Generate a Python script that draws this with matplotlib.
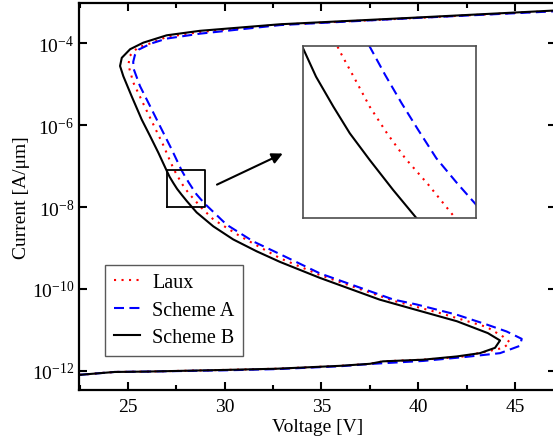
import numpy as np
import matplotlib
matplotlib.use("Agg")
import matplotlib.pyplot as plt
from matplotlib.ticker import MultipleLocator, NullLocator

plt.rcParams['font.family'] = ['Liberation Serif', 'DejaVu Serif']
plt.rcParams['mathtext.fontset'] = 'custom'
plt.rcParams['mathtext.rm'] = 'Liberation Serif'
plt.rcParams['mathtext.it'] = 'Liberation Serif:italic'
plt.rcParams['axes.unicode_minus'] = False

# voltage [V] and log10 of current [A/um], in path order
# (lower branch -> snapback tip -> back up-left -> upper branch)
v_laux = [22.5, 24.3, 26.0, 30.0, 32.7, 35.96, 37.51, 38.18, 40.25, 42.2, 43.54,
          44.4, 44.75, 44.4, 43.54, 41.13, 38.72, 34.92, 32.86, 30.79, 29.41,
          28.75, 28.45, 28.18, 27.97, 27.77, 27.6, 27.42, 27.22, 26.83, 26.31,
          25.79, 25.28, 25.02, 25.1, 25.5, 26.14, 27.0, 28.72, 32.86, 39.74, 47.2]
logi_laux = [-12.10, -12.03, -12.02, -11.98, -11.95, -11.88, -11.83, -11.77, -11.73,
             -11.66, -11.53, -11.44, -11.31, -11.17, -10.93, -10.59, -10.29, -9.66,
             -9.25, -8.71, -8.30, -7.995, -7.826, -7.686, -7.555, -7.415, -7.271,
             -7.121, -6.92, -6.49, -5.98, -5.47, -4.96, -4.53, -4.30, -4.10, -4.00,
             -3.84, -3.72, -3.54, -3.38, -3.20]

v_a = [22.5, 24.3, 26.0, 30.0, 32.7, 35.96, 37.68, 40.26, 42.5, 44.23, 45.26,
       45.35, 44.57, 43.54, 41.99, 39.92, 38.72, 34.92, 32.86, 31.48, 30.1, 29.0,
       28.78, 28.54, 28.33, 28.14, 27.95, 27.77, 27.26, 26.74, 26.14, 25.62,
       25.3, 25.27, 25.36, 25.55, 26.2, 27.0, 28.72, 32.86, 39.74, 47.2]
logi_a = [-12.10, -12.03, -12.02, -11.99, -11.96, -11.89, -11.83, -11.76, -11.66,
          -11.57, -11.39, -11.22, -11.04, -10.87, -10.63, -10.38, -10.26, -9.62,
          -9.15, -8.84, -8.43, -7.93, -7.817, -7.686, -7.537, -7.398, -7.25, -7.10,
          -6.59, -6.10, -5.53, -5.04, -4.63, -4.45, -4.28, -4.15, -4.00, -3.88,
          -3.76, -3.55, -3.38, -3.21]

v_b = [22.5, 24.3, 26.0, 30.0, 32.7, 35.96, 37.51, 38.18, 40.25, 42.0, 43.19,
       43.97, 44.23, 43.6, 42.0, 39.73, 38.0, 34.92, 32.86, 31.65, 30.44, 29.41,
       28.55, 28.31, 28.04, 27.77, 27.54, 27.35, 27.15, 27.0, 26.57, 26.14,
       25.71, 25.19, 24.76, 24.59, 24.68, 25.11, 25.79, 27.0, 28.72, 32.86,
       39.74, 47.2]
logi_b = [-12.10, -12.03, -12.02, -11.98, -11.95, -11.88, -11.83, -11.77, -11.73,
          -11.65, -11.57, -11.44, -11.26, -11.08, -10.79, -10.49, -10.26, -9.73,
          -9.34, -9.08, -8.79, -8.47, -8.13, -8.0, -7.852, -7.695, -7.555, -7.415,
          -7.258, -7.109, -6.67, -6.26, -5.86, -5.29, -4.80, -4.55, -4.35, -4.14,
          -3.98, -3.80, -3.69, -3.53, -3.37, -3.19]

labels = ['Laux', 'Scheme A', 'Scheme B']
zoom_box = (27.0, 29.0, 1e-8, 8e-8)

series = [
    (v_laux, logi_laux, dict(color='red', lw=1.5, linestyle=(0, (1, 2.6)))),
    (v_a, logi_a, dict(color='blue', lw=1.5, linestyle=(0, (4.8, 2.6)))),
    (v_b, logi_b, dict(color='black', lw=1.5, linestyle='-')),
]

fig = plt.figure(figsize=(5.53, 4.39), dpi=100)
ax = fig.add_axes([0.1429, 0.1094, 0.8621, 0.8815])

for (v, li, style), lab in zip(series, labels):
    ax.plot(v, 10 ** np.array(li), label=lab, **style)

ax.set_yscale('log')
ax.set_xlim(22.47, 47.11)
ax.set_ylim(10 ** -12.47, 10 ** -3.01)
ax.set_xticks([25, 30, 35, 40, 45])
ax.xaxis.set_minor_locator(MultipleLocator(2.5))
ax.set_yticks([1e-12, 1e-10, 1e-8, 1e-6, 1e-4])
ax.yaxis.set_minor_locator(NullLocator())
ax.tick_params(which='both', direction='in', top=True, right=True, width=1.5, labelsize=14)
ax.tick_params(axis='x', pad=6)
ax.tick_params(which='major', length=6)
ax.tick_params(which='minor', length=3.5)
for sp in ax.spines.values():
    sp.set_linewidth(1.6)

ax.set_xlabel('Voltage [V]', fontsize=14, labelpad=2)
ax.set_ylabel('Current [A/\u03bcm]', fontsize=14, labelpad=1)

leg = ax.legend(loc='lower left', bbox_to_anchor=(0.055, 0.088), borderaxespad=0,
                fancybox=False, framealpha=1, edgecolor='0.35', fontsize=14.5,
                handlelength=1.3, handletextpad=0.6, labelspacing=0.42,
                borderpad=0.42)
leg.get_frame().set_linewidth(1.0)

# zoom rectangle and arrow
x0, x1, y0, y1 = zoom_box
ax.plot([x0, x1, x1, x0, x0], [y0, y0, y1, y1, y0], color='black', lw=1.3)
ax.annotate('', xy=(33.0, 10 ** -6.69), xytext=(29.6, 10 ** -7.45),
            arrowprops=dict(arrowstyle='-|>', color='black', lw=1.5,
                            mutation_scale=16, shrinkA=0, shrinkB=0))

# inset
axi = fig.add_axes([0.548, 0.501, 0.313, 0.392])
for v, li, style in series:
    axi.plot(v, 10 ** np.array(li), **style)
axi.set_yscale('log')
axi.set_xlim(x0, x1)
axi.set_ylim(y0, y1)
axi.set_xticks([])
axi.set_yticks([])
axi.yaxis.set_minor_locator(NullLocator())
for sp in axi.spines.values():
    sp.set_linewidth(1.2)
    sp.set_color('0.3')

fig.savefig('out.png', dpi=100)
